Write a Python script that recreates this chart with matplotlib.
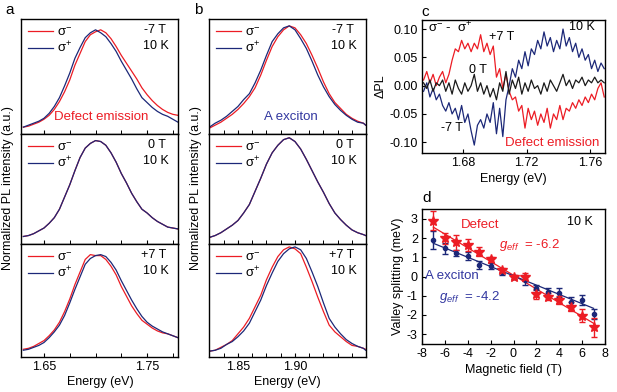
import numpy as np
import matplotlib
matplotlib.use('Agg')
import matplotlib.pyplot as plt
from matplotlib.ticker import FixedLocator, FormatStrFormatter

plt.rcParams['font.family'] = ['Liberation Sans', 'DejaVu Sans']
plt.rcParams['mathtext.fontset'] = 'custom'
plt.rcParams['mathtext.rm'] = 'Liberation Sans'
plt.rcParams['mathtext.it'] = 'Liberation Sans:italic'
plt.rcParams['axes.unicode_minus'] = False
plt.rcParams['font.size'] = 9

RED = '#ec1c24'
BLUE = '#1c2878'
TXTBLUE = '#3237a0'

# ---- panel a: defect emission spectra (normalized), energy grid in eV
E_a = [1.630, 1.635, 1.640, 1.645, 1.650, 1.655, 1.660, 1.665, 1.670, 1.675, 1.680,
       1.685, 1.690, 1.695, 1.700, 1.705, 1.710, 1.715, 1.720, 1.725, 1.730, 1.735,
       1.740, 1.745, 1.750, 1.755, 1.760, 1.765, 1.770, 1.775, 1.780]
a_m7_minus = [0.01, 0.02, 0.04, 0.06, 0.09, 0.13, 0.19, 0.27, 0.37, 0.49, 0.64, 0.76, 0.88,
              0.95, 0.98, 1.00, 0.97, 0.91, 0.83, 0.74, 0.66, 0.58, 0.50, 0.41, 0.34, 0.28,
              0.23, 0.19, 0.16, 0.14, 0.13]
a_m7_plus = [0.01, 0.03, 0.05, 0.07, 0.10, 0.15, 0.22, 0.31, 0.43, 0.56, 0.71, 0.82, 0.92,
             0.97, 1.00, 0.97, 0.93, 0.86, 0.78, 0.68, 0.59, 0.50, 0.40, 0.31, 0.26, 0.21,
             0.17, 0.14, 0.12, 0.09, 0.06]
a_0_minus = [0.02, 0.03, 0.05, 0.08, 0.11, 0.16, 0.22, 0.31, 0.44, 0.57, 0.72, 0.86, 0.96,
             1.01, 1.04, 1.03, 0.99, 0.91, 0.81, 0.69, 0.59, 0.48, 0.39, 0.31, 0.27, 0.22,
             0.18, 0.15, 0.12, 0.11, 0.10]
a_0_plus = [0.02, 0.03, 0.05, 0.08, 0.11, 0.16, 0.22, 0.31, 0.44, 0.57, 0.72, 0.86, 0.96,
            1.01, 1.04, 1.03, 0.99, 0.91, 0.81, 0.69, 0.59, 0.48, 0.39, 0.31, 0.27, 0.22,
            0.18, 0.15, 0.12, 0.11, 0.10]
a_p7_minus = [0.02, 0.03, 0.05, 0.08, 0.11, 0.16, 0.22, 0.30, 0.41, 0.54, 0.69, 0.82, 0.95,
              1.00, 0.99, 0.99, 0.95, 0.88, 0.79, 0.67, 0.57, 0.47, 0.39, 0.32, 0.28, 0.24,
              0.21, 0.19, 0.18, 0.16, 0.14]
a_p7_plus = [0.01, 0.02, 0.04, 0.06, 0.09, 0.14, 0.20, 0.27, 0.37, 0.50, 0.64, 0.77, 0.90,
             0.96, 0.99, 1.00, 0.98, 0.92, 0.84, 0.73, 0.63, 0.53, 0.44, 0.36, 0.30, 0.26,
             0.23, 0.20, 0.18, 0.16, 0.14]

# ---- panel b: A exciton spectra
E_b = [1.825, 1.830, 1.835, 1.840, 1.845, 1.850, 1.855, 1.860, 1.865, 1.870, 1.875,
       1.880, 1.885, 1.890, 1.895, 1.900, 1.905, 1.910, 1.915, 1.920, 1.925, 1.930,
       1.935, 1.940, 1.945, 1.950, 1.955, 1.960, 1.962]
b_m7_minus = [0.00, 0.03, 0.06, 0.10, 0.14, 0.19, 0.25, 0.32, 0.41, 0.54, 0.69, 0.83, 0.93,
              1.00, 1.04, 1.02, 0.95, 0.86, 0.74, 0.61, 0.47, 0.35, 0.26, 0.20, 0.14, 0.10,
              0.07, 0.05, 0.03]
b_m7_plus = [0.01, 0.05, 0.08, 0.12, 0.17, 0.22, 0.29, 0.35, 0.46, 0.59, 0.74, 0.88, 0.96,
             1.02, 1.04, 1.00, 0.91, 0.81, 0.68, 0.54, 0.42, 0.32, 0.24, 0.18, 0.13, 0.09,
             0.06, 0.05, 0.03]
b_0_minus = [0.01, 0.03, 0.06, 0.10, 0.14, 0.19, 0.27, 0.36, 0.50, 0.64, 0.79, 0.91, 0.99,
             1.05, 1.07, 1.03, 0.95, 0.84, 0.72, 0.60, 0.49, 0.37, 0.27, 0.20, 0.14, 0.09,
             0.06, 0.04, 0.03]
b_0_plus = [0.01, 0.03, 0.06, 0.10, 0.14, 0.19, 0.27, 0.36, 0.50, 0.64, 0.79, 0.91, 0.99,
            1.05, 1.07, 1.03, 0.95, 0.84, 0.72, 0.60, 0.49, 0.37, 0.27, 0.20, 0.14, 0.09,
            0.06, 0.04, 0.03]
b_p7_minus = [0.00, 0.01, 0.04, 0.07, 0.11, 0.18, 0.25, 0.34, 0.46, 0.58, 0.74, 0.87, 0.98,
              1.05, 1.08, 1.06, 1.01, 0.87, 0.72, 0.56, 0.41, 0.27, 0.20, 0.15, 0.10, 0.06,
              0.05, 0.03, 0.02]
b_p7_plus = [0.00, 0.01, 0.03, 0.07, 0.10, 0.15, 0.21, 0.29, 0.41, 0.53, 0.68, 0.81, 0.93,
             1.01, 1.06, 1.08, 1.05, 0.96, 0.82, 0.67, 0.50, 0.34, 0.25, 0.18, 0.12, 0.08,
             0.05, 0.03, 0.01]

# ---- panel c: difference spectra sigma- - sigma+
E_c = [1.655, 1.657, 1.659, 1.661, 1.663, 1.665, 1.667, 1.669, 1.671, 1.673, 1.675, 1.677,
       1.679, 1.681, 1.683, 1.685, 1.687, 1.689, 1.691, 1.693, 1.695, 1.697, 1.699, 1.701,
       1.703, 1.705, 1.707, 1.709, 1.711, 1.713, 1.715, 1.717, 1.719, 1.721, 1.723, 1.725,
       1.727, 1.729, 1.731, 1.733, 1.735, 1.737, 1.739, 1.741, 1.743, 1.745, 1.747, 1.749,
       1.751, 1.753, 1.755, 1.757, 1.759, 1.761, 1.763, 1.765, 1.767, 1.769]
dpl_p7 = [0.010, 0.025, 0.005, 0.020, 0.000, 0.015, 0.025, 0.005, 0.020, 0.045, 0.065, 0.060,
          0.080, 0.065, 0.075, 0.060, 0.075, 0.065, 0.090, 0.060, 0.075, 0.055, 0.070, 0.015,
          0.030, -0.005, 0.020, -0.010, -0.025, -0.020, -0.045, -0.035, -0.075, -0.040, -0.060,
          -0.045, -0.070, -0.050, -0.065, -0.040, -0.075, -0.050, -0.060, -0.035, -0.060, -0.040,
          -0.045, -0.030, -0.040, -0.025, -0.035, -0.020, -0.030, -0.015, -0.025, -0.005, 0.005,
          -0.020]
dpl_0 = [0.005, -0.005, 0.010, -0.010, 0.005, 0.000, 0.010, -0.010, 0.005, -0.015, 0.010,
         -0.005, -0.015, 0.005, -0.010, 0.000, 0.020, -0.010, 0.005, -0.015, 0.000, -0.020,
         -0.005, -0.025, 0.005, -0.010, 0.025, -0.015, 0.010, -0.005, 0.015, -0.015, 0.005,
         -0.010, 0.010, -0.005, 0.000, -0.015, 0.005, -0.010, 0.010, 0.000, -0.010, 0.005,
         0.020, 0.000, 0.010, -0.005, 0.010, 0.005, 0.015, 0.000, 0.010, 0.005, 0.015, 0.005,
         0.010, 0.005]
dpl_m7 = [-0.010, 0.005, -0.020, -0.005, -0.025, -0.015, -0.035, -0.045, -0.030, -0.050,
          -0.040, -0.060, -0.035, -0.065, -0.050, -0.080, -0.105, -0.070, -0.060, -0.075,
          -0.050, -0.065, -0.030, -0.085, -0.040, -0.090, -0.025, 0.000, 0.030, 0.015, 0.045,
          0.030, 0.060, 0.035, 0.065, 0.055, 0.080, 0.065, 0.095, 0.070, 0.085, 0.060, 0.080,
          0.065, 0.100, 0.070, 0.085, 0.060, 0.075, 0.050, 0.065, 0.045, 0.055, 0.030, 0.045,
          0.025, 0.040, 0.030]

# ---- panel d: valley splitting vs field
B = [-7, -6, -5, -4, -3, -2, -1, 0, 1, 2, 3, 4, 5, 6, 7]
split_defect = [2.91, 1.99, 1.78, 1.64, 1.30, 0.90, 0.34, -0.01, -0.04, -0.91, -1.05, -1.23,
                -1.57, -2.04, -2.65]
err_defect = [0.48, 0.30, 0.40, 0.30, 0.25, 0.12, 0.12, 0.10, 0.20, 0.25, 0.20, 0.20, 0.25,
              0.35, 0.50]
split_exc = [1.90, 1.47, 1.21, 1.07, 0.60, 0.55, 0.25, -0.01, -0.18, -0.58, -0.79, -0.84,
             -1.31, -1.23, -1.96]
err_exc = [0.45, 0.30, 0.15, 0.20, 0.20, 0.15, 0.15, 0.10, 0.25, 0.15, 0.20, 0.25, 0.25,
           0.25, 0.25]
fit_B = [-7, 7]
fit_defect = [2.57, -2.44]
fit_exc = [1.73, -1.66]

a_major = [1.65, 1.75]
a_minor = [1.625, 1.675, 1.70, 1.725, 1.775]
b_major = [1.85, 1.90]
b_minor = [1.8375, 1.8625, 1.875, 1.8875, 1.9125, 1.925, 1.9375, 1.95]

W, H = 617, 392
fig = plt.figure(figsize=(W / 100, H / 100), dpi=100)


def px_axes(x0, x1, y0, y1):
    return fig.add_axes([x0 / W, 1 - y1 / H, (x1 - x0) / W, (y1 - y0) / H])


def ftext(x, y, s, **kw):
    fig.text(x / W, 1 - y / H, s, **kw)


def style(ax):
    ax.tick_params(direction='in', length=3, width=0.8, labelsize=9, pad=3)
    ax.tick_params(which='minor', direction='in', length=3, width=0.7)
    for sp in ax.spines.values():
        sp.set_linewidth(1.0)


rows_y = [(19, 134), (134, 244), (244, 357)]
fields = ['-7 T', '0 T', '+7 T']
a_data = [(a_m7_minus, a_m7_plus), (a_0_minus, a_0_plus), (a_p7_minus, a_p7_plus)]
b_data = [(b_m7_minus, b_m7_plus), (b_0_minus, b_0_plus), (b_p7_minus, b_p7_plus)]

for x0, x1, E, data, xl, maj, mnr in [
        (21, 178, E_a, a_data, (1.6277, 1.780), a_major, a_minor),
        (209, 366, E_b, b_data, (1.8246, 1.9623), b_major, b_minor)]:
    for r in range(3):
        y0, y1 = rows_y[r]
        ax = px_axes(x0, x1, y0, y1)
        sm, sp_ = data[r]
        ax.plot(E, sm, color=RED, lw=0.9, label='σ$^{-}$')
        ax.plot(E, sp_, color=BLUE, lw=0.9, label='σ$^{+}$')
        ax.set_xlim(*xl)
        ax.set_ylim(-0.06, 1.11)
        ax.set_yticks([])
        ax.xaxis.set_major_locator(FixedLocator(maj))
        ax.xaxis.set_minor_locator(FixedLocator(mnr))
        style(ax)
        if r < 2:
            ax.tick_params(labelbottom=False)
        else:
            ax.xaxis.set_major_formatter(FormatStrFormatter('%.2f'))
        ax.legend(loc='upper left', frameon=False, handlelength=1.9, handletextpad=0.3,
                  labelspacing=0.15, borderaxespad=0.15, fontsize=9.5)
        ax.text(1 - 12 / (x1 - x0), 1 - 11 / (y1 - y0), fields[r], transform=ax.transAxes,
                ha='right', va='center', fontsize=9)
        ax.text(1 - 9 / (x1 - x0), 1 - 27 / (y1 - y0), '10 K', transform=ax.transAxes,
                ha='right', va='center', fontsize=9)

ftext(101, 117, 'Defect emission', color=RED, ha='center', va='center', fontsize=9.5)
ftext(291, 117, 'A exciton', color=TXTBLUE, ha='center', va='center', fontsize=9.5)
for xc in (8, 196):
    ftext(xc, 188, 'Normalized PL intensity (a.u.)', rotation=90, ha='center', va='center',
          fontsize=9)
ftext(100, 382, 'Energy (eV)', ha='center', va='center', fontsize=9)
ftext(287, 382, 'Energy (eV)', ha='center', va='center', fontsize=9)

# panel c
axc = px_axes(422, 605, 20, 153)
axc.plot(E_c, dpl_p7, color=RED, lw=0.9)
axc.plot(E_c, dpl_m7, color=BLUE, lw=0.9)
axc.plot(E_c, dpl_0, color='#1a1a1a', lw=0.9)
axc.set_xlim(1.654, 1.7695)
axc.set_ylim(-0.119, 0.116)
axc.set_xticks([1.68, 1.72, 1.76])
axc.set_yticks([-0.10, -0.05, 0.00, 0.05, 0.10])
axc.yaxis.set_major_formatter(FormatStrFormatter('%.2f'))
style(axc)
axc.set_xlabel('Energy (eV)', fontsize=9, labelpad=3)
axc.set_ylabel('ΔPL', fontsize=9, labelpad=2)
ftext(450, 28, 'σ$^{-}$ -  σ$^{+}$', ha='center', va='center', fontsize=9.5)
ftext(502, 37, '+7 T', ha='center', va='center', fontsize=9)
ftext(478, 70, '0 T', ha='center', va='center', fontsize=9)
ftext(452, 128, '-7 T', ha='center', va='center', fontsize=9)
ftext(552, 143, 'Defect emission', color=RED, ha='center', va='center', fontsize=9.5)
ftext(595, 27, '10 K', ha='right', va='center', fontsize=9)

# panel d
axd = px_axes(422, 605, 209, 344)
axd.plot(fit_B, fit_defect, color=RED, lw=0.9)
axd.plot(fit_B, fit_exc, color=BLUE, lw=0.9)
axd.errorbar(B, split_exc, yerr=err_exc, fmt='o', color=BLUE, ms=3, elinewidth=1,
             capsize=2.5, capthick=1)
axd.errorbar(B, split_defect, yerr=err_defect, fmt='*', color=RED, ms=7, elinewidth=1,
             capsize=2.5, capthick=1)
axd.set_xlim(-8, 8)
axd.set_ylim(-3.52, 3.52)
axd.set_xticks(range(-8, 9, 2))
axd.set_yticks(range(-3, 4))
style(axd)
axd.set_xlabel('Magnetic field (T)', fontsize=9, labelpad=3)
axd.set_ylabel('Valley splitting (meV)', fontsize=9, labelpad=2)
ftext(480, 225, 'Defect', color=RED, ha='center', va='center', fontsize=9.5)
ftext(530, 245, '$g_{eff}$  = -6.2', color=RED, ha='center', va='center', fontsize=9.5)
ftext(452, 276, 'A exciton', color=TXTBLUE, ha='center', va='center', fontsize=9.5)
ftext(470, 297, '$g_{eff}$  = -4.2', color=TXTBLUE, ha='center', va='center', fontsize=9.5)
ftext(593, 222, '10 K', ha='right', va='center', fontsize=9)

# panel letters
ftext(10, 10, 'a', ha='center', va='center', fontsize=11)
ftext(198, 10, 'b', ha='center', va='center', fontsize=11)
ftext(425, 12, 'c', ha='center', va='center', fontsize=11)
ftext(427, 198, 'd', ha='center', va='center', fontsize=11)

fig.savefig('out.png', dpi=100)
